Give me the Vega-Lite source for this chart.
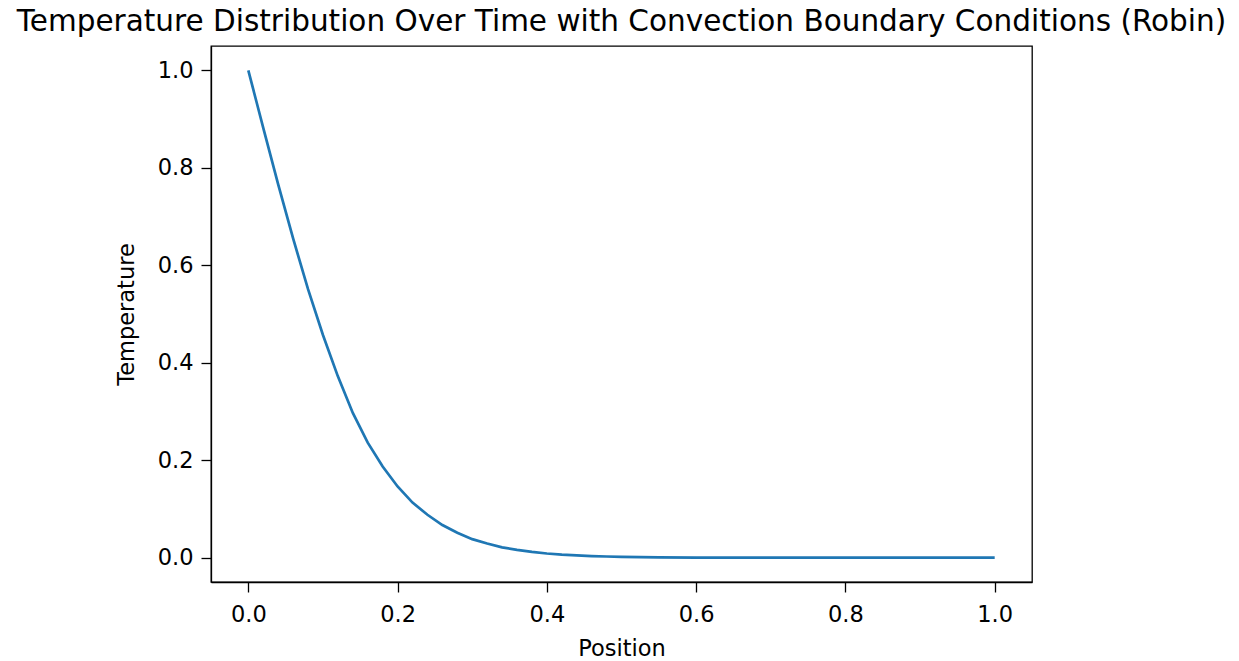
{
  "$schema": "https://vega.github.io/schema/vega-lite/v6.json",
  "autosize": "none",
  "padding": {"left": 211, "top": 46, "right": 207, "bottom": 79},
  "width": 821,
  "height": 536,
  "background": "white",
  "config": {
    "font": "DejaVu Sans",
    "view": {"stroke": "#000000", "strokeWidth": 1.3},
    "axis": {"grid": false, "domainColor": "#000000", "domainWidth": 1.3, "tickColor": "#000000", "tickWidth": 1.3, "tickSize": 10, "labelFont": "DejaVu Sans", "labelFontSize": 22.5, "labelColor": "#000000", "titleFont": "DejaVu Sans", "titleFontSize": 22.5, "titleFontWeight": "normal", "titleColor": "#000000"}
  },
  "title": {"text": "Temperature Distribution Over Time with Convection Boundary Conditions (Robin)", "font": "DejaVu Sans", "fontSize": 29.5, "fontWeight": "normal", "color": "#000000", "anchor": "middle", "baseline": "alphabetic", "offset": -14, "limit": 0},
  "data": {"values": [
    {"x": 0.0, "t": 1.0},
    {"x": 0.02, "t": 0.882},
    {"x": 0.04, "t": 0.766},
    {"x": 0.06, "t": 0.655},
    {"x": 0.08, "t": 0.551},
    {"x": 0.10, "t": 0.457},
    {"x": 0.12, "t": 0.372},
    {"x": 0.14, "t": 0.297},
    {"x": 0.16, "t": 0.236},
    {"x": 0.18, "t": 0.187},
    {"x": 0.20, "t": 0.146},
    {"x": 0.22, "t": 0.113},
    {"x": 0.24, "t": 0.088},
    {"x": 0.26, "t": 0.067},
    {"x": 0.28, "t": 0.051},
    {"x": 0.30, "t": 0.038},
    {"x": 0.32, "t": 0.029},
    {"x": 0.34, "t": 0.021},
    {"x": 0.36, "t": 0.016},
    {"x": 0.38, "t": 0.0117},
    {"x": 0.40, "t": 0.0085},
    {"x": 0.42, "t": 0.0061},
    {"x": 0.44, "t": 0.0045},
    {"x": 0.46, "t": 0.0033},
    {"x": 0.48, "t": 0.0023},
    {"x": 0.50, "t": 0.0017},
    {"x": 0.55, "t": 0.0006},
    {"x": 0.60, "t": 0.0002},
    {"x": 0.65, "t": 0.0001},
    {"x": 0.70, "t": 0.0},
    {"x": 0.80, "t": 0.0},
    {"x": 0.90, "t": 0.0},
    {"x": 1.00, "t": 0.0}
  ]},
  "mark": {"type": "line", "color": "#1f77b4", "strokeWidth": 2.7, "clip": true},
  "encoding": {
    "x": {"field": "x", "type": "quantitative", "scale": {"domain": [-0.05, 1.05], "nice": false, "zero": false},
      "axis": {"title": "Position", "values": [0, 0.2, 0.4, 0.6, 0.8, 1.0], "format": ".1f", "labelPadding": 11, "titlePadding": 12}},
    "y": {"field": "t", "type": "quantitative", "scale": {"domain": [-0.05, 1.05], "nice": false, "zero": false},
      "axis": {"title": "Temperature", "values": [0, 0.2, 0.4, 0.6, 0.8, 1.0], "format": ".1f", "labelPadding": 8, "titlePadding": 19}}
  }
}
